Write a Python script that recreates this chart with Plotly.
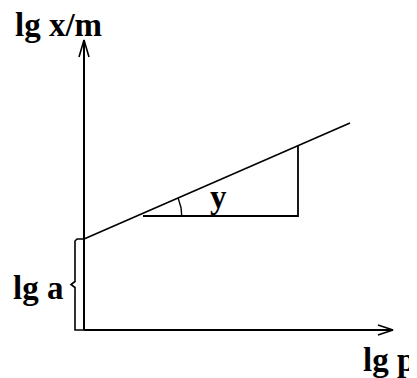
import numpy as np
import plotly.graph_objects as go

# Schematic (Freundlich isotherm) in abstract units; origin at the axes' corner
lg_a = 91.0                 # intercept on the lg x/m axis
slope = 0.436               # slope of lg x/m vs lg p
line_lg_p = [0.0, 266.0]    # extent of the straight line along lg p
tri_lg_p = [59.0, 214.0]    # horizontal leg of the slope triangle
tri_base = 114.0            # height of the triangle's horizontal leg
x_axis_end = 309.0
y_axis_end = 290.0
labels = ["lg x/m", "lg a", "lg p", "y"]

line_lg_xm = [lg_a + slope * p for p in line_lg_p]
tri_top = lg_a + slope * tri_lg_p[1]

FONT = dict(family="Liberation Serif", size=33, color="black")
fig = go.Figure()

def seg(xs, ys, w=1.6):
    fig.add_trace(go.Scatter(x=xs, y=ys, mode="lines",
                             line=dict(color="black", width=w),
                             hoverinfo="skip", showlegend=False))

# axes with open arrowheads
seg([0, 0], [0, y_axis_end], 2)
seg([-5, 0, 5], [y_axis_end - 17, y_axis_end, y_axis_end - 17], 1.6)
seg([0, x_axis_end], [0, 0], 2)
seg([x_axis_end - 15, x_axis_end, x_axis_end - 15], [5, 0, -5], 1.6)

# isotherm line
seg(line_lg_p, line_lg_xm, 1.6)

# slope triangle
seg([tri_lg_p[0], tri_lg_p[1], tri_lg_p[1]], [tri_base, tri_base, tri_top], 1.8)

# angle arc
x0 = (tri_base - lg_a) / slope
ang = np.arctan(slope)
t = np.linspace(0, ang, 20)
seg(list(x0 + 45 * np.cos(t)), list(tri_base + 45 * np.sin(t)), 1.4)

# brace for lg a
mid = lg_a / 2
seg([0, -7, -9, -9, -13, -9, -9, 0],
    [lg_a, lg_a, lg_a - 2, mid + 3, mid, mid - 3, 0, 0], 1.6)

# labels
pos = [(-26, 305), (-46, 42), (305, -30), (134, 133)]
for txt, (px, py) in zip(labels, pos):
    fig.add_annotation(x=px, y=py, text="<b>%s</b>" % txt, showarrow=False,
                       xanchor="center", yanchor="middle", font=FONT)

# the page body adds an 8px margin, so the visible window starts 8px before the figure
fig.update_layout(width=417, height=378, margin=dict(l=0, r=0, t=0, b=0),
                  paper_bgcolor="white", plot_bgcolor="white",
                  xaxis=dict(range=[-76, 341], visible=False, fixedrange=True),
                  yaxis=dict(range=[-56, 322], visible=False, fixedrange=True))
fig.write_html("out.html")
